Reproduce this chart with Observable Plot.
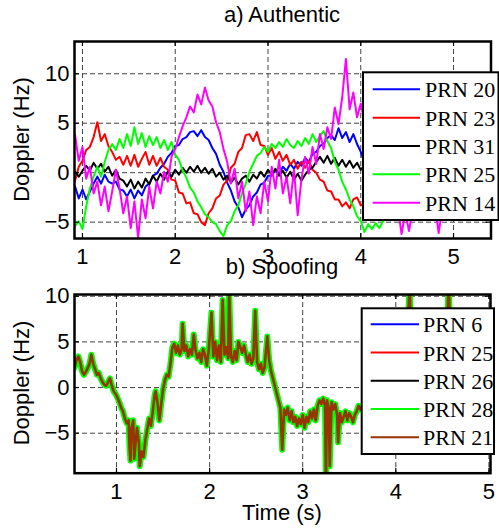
<!DOCTYPE html>
<html><head><meta charset="utf-8">
<script src="https://cdn.jsdelivr.net/npm/d3@7"></script>
<script src="https://cdn.jsdelivr.net/npm/@observablehq/plot@0.6"></script>
<style>
body{margin:0;background:#fff;}
#wrap{position:relative;width:499px;height:531px;overflow:hidden;background:#fff;}
</style></head><body><div id="wrap"></div>
<script>
// ---------- data ----------
const xTicks = [1, 2, 3, 4, 5];
const yTicks = [-5, 0, 5, 10];

// authentic: sampled every 0.04 s from 0.92 s to 5.40 s
const authTime = d3.range(113).map(i => Math.round((0.92 + 0.04 * i) * 100) / 100);

const prn20 = [-1.4,-2.6,-1.7,-2.7,-1.9,-1.1,-0.4,-1.1,-0.2,-0.9,-1.1,-0.9,-1.7,-1.8,-2.4,-1.7,-2.6,-1.8,-2.3,-1.4,-1.1,-0.3,-0.1,0.5,0.9,1.6,2.0,2.7,2.8,3.4,3.6,4.1,4.2,3.7,4.3,3.6,3.3,2.5,1.9,0.8,0.1,-1.0,-1.8,-2.9,-3.5,-4.5,-3.7,-3.3,-2.4,-2.0,-1.2,-1.0,-0.3,-0.3,0.3,-0.1,0.6,0.2,0.9,0.4,1.1,0.7,1.5,1.1,1.9,2.1,2.7,2.9,3.5,3.8,3.3,4.5,3.5,4.1,3.1,3.9,2.9,2.1,1.0,0.3,-0.8,-1.4,-2.3,-2.6,-3.2,-3.0,-3.4,-2.9,-3.1,-2.5,-2.6,-2.0,-2.0,-1.4,-1.4,-0.8,-0.8,-0.2,-0.2,0.4,0.4,1.0,1.0,1.6,1.5,2.1,2.0,2.6,2.4,3.0,2.8,3.3,3.1];
const prn23 = [-0.8,0.6,1.2,2.3,2.6,3.6,5.1,3.2,3.9,2.7,2.1,1.3,1.6,0.8,1.7,0.7,1.8,0.6,1.4,2.1,0.8,1.7,0.7,1.5,0.6,0.3,-0.7,-0.8,-2.0,-2.1,-3.1,-3.0,-4.1,-4.2,-5.0,-5.3,-4.1,-3.6,-2.6,-2.3,-1.2,-0.8,0.5,0.9,2.1,2.5,3.8,3.9,3.2,4.1,2.8,2.7,1.8,2.5,1.4,2.1,1.2,1.8,0.8,1.3,0.4,1.1,0.5,1.2,0.3,0.0,-0.7,-0.9,-1.8,-1.9,-2.7,-2.7,-3.4,-3.0,-3.6,-2.7,-2.5,-3.3,-3.1,-3.5,-2.9,-3.3,-2.7,-3.1,-2.5,-2.9,-2.3,-2.7,-2.1,-2.4,-1.8,-2.2,-1.6,-2.0,-1.4,-1.8,-1.2,-1.6,-1.0,-1.4,-0.8,-1.2,-0.6,-1.0,-0.4,-0.8,-0.2,-0.6,0.0,-0.4,0.2,-0.2,0.3];
const prn31 = [0.1,-0.4,0.2,0.7,0.2,1.0,0.4,0.9,0.1,0.6,-0.3,0.3,-0.6,-0.8,-1.4,-0.7,-1.6,-0.9,-1.5,-0.6,-1.2,-0.3,-0.9,-0.1,-0.7,0.1,-0.4,0.3,-0.2,0.5,0.0,0.6,0.1,0.7,0.0,0.5,-0.1,0.4,-0.4,0.0,-0.7,-0.3,-1.0,-0.5,-1.2,-0.6,-0.3,-0.9,-0.2,-0.6,0.1,-0.4,0.3,-0.2,0.4,-0.3,0.2,-0.5,0.1,-0.7,-0.1,-0.8,-0.2,0.3,0.5,1.1,1.6,1.0,1.7,0.9,1.5,0.7,1.3,0.6,1.2,0.5,1.0,0.3,0.7,0.0,0.4,-0.3,0.1,-0.5,-0.1,-0.7,-0.3,-0.8,-0.4,-0.9,-0.5,-1.0,-0.6,-1.0,-0.6,-0.9,-0.5,-0.8,-0.4,-0.7,-0.3,-0.6,-0.2,-0.5,-0.1,-0.4,0.0,-0.3,0.1,-0.2,0.2,-0.1,0.3];
const prn25 = [-5.4,-4.9,-5.7,-3.4,-1.6,-0.4,0.6,-0.4,1.1,2.3,2.9,2.3,3.4,2.5,3.9,2.7,4.6,2.9,4.0,2.6,3.7,2.8,3.6,2.5,3.3,2.3,3.1,1.8,1.3,0.2,-0.5,-1.5,-2.0,-2.9,-3.5,-4.2,-4.5,-5.0,-5.2,-5.9,-6.4,-5.3,-4.9,-3.9,-3.3,-2.1,-1.1,0.1,0.9,1.7,2.0,2.6,2.1,2.9,2.5,3.1,2.6,3.4,2.8,2.5,3.2,2.7,3.5,2.9,3.9,3.1,3.7,4.2,3.2,2.5,1.1,0.3,-0.9,-1.7,-2.7,-3.4,-4.4,-4.9,-6.0,-5.2,-5.7,-5.1,-5.6,-4.9,-4.6,-4.0,-4.2,-3.5,-3.7,-3.0,-3.2,-2.5,-2.7,-2.0,-2.2,-1.5,-1.6,-0.9,-1.1,-0.4,-0.5,0.2,0.0,0.7,0.5,1.2,1.0,1.7,1.4,2.1,1.9,2.5,2.3];
const prn14 = [3.8,1.2,2.6,-0.6,0.6,-2.1,-0.9,-3.3,-1.4,-3.9,-1.9,0.3,-1.6,-4.1,-2.4,-5.6,-2.9,-6.6,-2.7,-4.6,-1.4,-3.6,-0.9,-2.1,0.1,-0.9,1.6,2.4,3.6,4.7,5.6,6.7,6.1,7.9,6.9,8.6,7.3,6.7,5.1,4.1,2.4,1.1,-1.1,0.4,-2.6,-0.9,-3.9,-1.9,-5.3,-2.4,-4.1,-0.9,-2.9,0.6,-1.6,1.3,-2.1,-0.4,-3.1,0.3,-4.3,-0.7,1.6,-0.1,2.6,0.9,3.9,2.4,4.6,3.4,6.6,4.9,7.6,11.5,6.4,8.1,5.6,7.0,5.2,4.0,2.1,0.5,-1.2,-2.4,-3.6,-3.0,-4.2,-3.5,-6.2,-4.0,-5.9,-3.6,-4.3,-3.4,-4.1,-3.2,-4.0,-3.3,-6.1,-3.5,-4.2,-3.1,-3.8,-2.8,-3.5,-2.5,-3.1,-2.2,-2.8,-1.9,-2.4,-1.5,-2.1];

const authNames  = ["PRN 20", "PRN 23", "PRN 31", "PRN 25", "PRN 14"];
const authColors = ["#0000ff", "#ff0000", "#000000", "#00ff00", "#ff00ff"];
const authValues = [prn20, prn23, prn31, prn25, prn14];

// spoofing: all five PRNs follow the same Doppler track
const spoofTime = [0.55,0.57,0.59,0.61,0.63,0.65,0.67,0.69,0.71,0.73,0.75,0.77,0.79,0.81,0.83,0.85,0.87,0.89,0.91,0.93,0.95,0.97,0.99,1.01,1.03,1.05,1.07,1.09,1.11,1.13,1.14,1.15,1.16,1.18,1.19,1.21,1.22,1.24,1.25,1.27,1.29,1.31,1.33,1.35,1.37,1.39,1.41,1.42,1.44,1.46,1.48,1.50,1.52,1.54,1.56,1.58,1.60,1.62,1.64,1.66,1.68,1.70,1.71,1.73,1.75,1.77,1.79,1.81,1.83,1.85,1.87,1.89,1.91,1.93,1.95,1.97,1.99,2.02,2.04,2.06,2.08,2.10,2.12,2.14,2.16,2.18,2.20,2.21,2.23,2.25,2.27,2.29,2.31,2.33,2.35,2.37,2.39,2.41,2.43,2.45,2.47,2.49,2.51,2.53,2.55,2.57,2.59,2.62,2.64,2.66,2.68,2.70,2.72,2.74,2.76,2.78,2.80,2.82,2.84,2.86,2.88,2.90,2.92,2.94,2.96,2.98,3.00,3.02,3.04,3.06,3.08,3.10,3.12,3.14,3.16,3.18,3.20,3.22,3.24,3.25,3.26,3.28,3.29,3.31,3.33,3.35,3.37,3.38,3.40,3.42,3.44,3.46,3.48,3.50,3.52,3.54,3.56,3.58,3.60,3.62,3.66,3.70,3.75,3.80,3.85,3.90,3.95,4.00,4.05,4.10,4.15,4.17,4.22,4.28,4.34,4.40,4.46,4.52,4.57,4.59,4.65,4.72,4.80,4.88,4.96];
const spoofDoppler = [2.2,3.0,3.4,2.8,1.8,1.4,1.7,2.1,2.6,3.6,2.6,2.0,1.4,1.6,1.0,0.6,0.3,0.2,0.6,1.0,0.2,-0.4,-0.7,-1.1,-1.6,-2.2,-2.6,-3.4,-3.9,-3.6,-6.5,-8.0,-4.5,-3.6,-7.8,-5.5,-4.4,-6.0,-8.6,-7.0,-7.6,-5.8,-4.6,-3.4,-4.2,-2.6,-0.8,-0.4,-1.6,-3.6,-1.8,-0.2,0.8,1.4,1.2,2.6,4.4,4.8,3.8,4.6,3.6,4.2,7.0,4.0,4.6,3.4,4.2,3.6,5.8,4.0,3.2,3.8,2.8,4.2,3.6,2.4,4.0,8.2,3.4,5.0,3.0,4.6,2.8,9.6,3.6,4.4,3.2,10.8,3.4,2.8,4.0,3.0,5.0,4.4,3.8,4.6,3.6,2.8,3.6,2.6,3.2,8.4,2.8,2.0,2.6,1.6,2.2,5.6,3.0,1.8,1.0,0.2,-0.6,-1.4,-2.2,-6.8,-2.4,-3.0,-2.2,-3.6,-2.6,-3.8,-3.2,-4.2,-3.4,-4.0,-3.0,-4.4,-3.2,-3.8,-2.6,-3.4,-2.4,-3.6,-2.0,-1.4,-1.8,-1.2,-2.0,-10.5,-1.4,-2.2,-8.6,-1.6,-2.4,-1.8,-3.0,-6.0,-2.8,-3.8,-3.2,-2.6,-3.6,-2.8,-3.2,-3.8,-3.0,-2.6,-2.0,-2.4,-1.8,-2.2,-1.0,-1.6,-0.8,-1.4,-0.6,-1.2,-0.4,-1.0,12,-0.8,-0.2,-1.0,-0.4,-1.2,-0.6,-1.4,12,-0.8,-1.6,-1.0,-1.8,-1.2,-2.0];

const spoofNames  = ["PRN 6", "PRN 25", "PRN 26", "PRN 28", "PRN 21"];
const spoofColors = ["#0000ff", "#ff0000", "#000000", "#00ff00", "#993300"];
const spoofWidths = [3.5, 3.5, 3.5, 6, 2.6];

// ---------- drawing ----------
const W = 499;
const wrap = document.getElementById("wrap");
const FONT = "'Liberation Sans', Arial, Helvetica, sans-serif";

function panel({top, height, mt, mb, ml, mr, xDomain, yDomain, lines}) {
  const fw = W - ml - mr, fh = height - mt - mb;
  const grid = {stroke: "#444", strokeOpacity: 1, strokeWidth: 1, strokeDasharray: "5,3"};
  const svg = Plot.plot({
    width: W, height,
    marginTop: mt, marginBottom: mb, marginLeft: ml, marginRight: mr,
    style: {fontFamily: FONT, fontSize: "22px", background: "transparent", overflow: "visible", color: "black"},
    x: {domain: xDomain},
    y: {domain: yDomain},
    marks: [
      Plot.gridX(xTicks, grid),
      Plot.gridY(yTicks, grid),
      ...lines,
      Plot.tickX(xTicks, {x: d => d, insetTop: fh - 5, stroke: "black", strokeWidth: 1.2}),
      Plot.tickX(xTicks, {x: d => d, insetBottom: fh - 5, stroke: "black", strokeWidth: 1.2}),
      Plot.tickY(yTicks, {y: d => d, insetRight: fw - 5, stroke: "black", strokeWidth: 1.2}),
      Plot.tickY(yTicks, {y: d => d, insetLeft: fw - 5, stroke: "black", strokeWidth: 1.2}),
      Plot.frame({stroke: "black", strokeWidth: 2.5}),
      Plot.axisX(xTicks, {tickSize: 0, tickPadding: 10, label: null, fontSize: 22}),
      Plot.axisY(yTicks, {tickSize: 0, tickPadding: 5, label: null, fontSize: 22})
    ]
  });
  svg.style.position = "absolute";
  svg.style.left = "0px";
  svg.style.top = top + "px";
  wrap.appendChild(svg);
}

// top panel: authentic
const authRows = authValues.map((vals, k) => authTime.map((t, i) => ({t, v: vals[i], prn: authNames[k]})));
panel({
  top: 0, height: 265, mt: 41, mb: 27, ml: 74, mr: 8.5,
  xDomain: [0.914, 5.404], yDomain: [-6.65, 13.26],
  lines: authRows.map((rows, k) => Plot.line(rows, {x: "t", y: "v", stroke: authColors[k], strokeWidth: 2, clip: true}))
});

// bottom panel: spoofing
const spoofRows = spoofTime.map((t, i) => ({t, v: spoofDoppler[i]}));
panel({
  top: 265, height: 266, mt: 29, mb: 58.3, ml: 74, mr: 9,
  xDomain: [0.549, 5.017], yDomain: [-9.38, 10.19],
  lines: spoofNames.map((n, k) => Plot.line(spoofRows, {x: "t", y: "v", stroke: spoofColors[k], strokeWidth: spoofWidths[k], clip: true}))
});

// overlay: titles, axis labels, legends
const ov = d3.select(wrap).append("svg")
  .attr("width", W).attr("height", 531)
  .style("position", "absolute").style("left", 0).style("top", 0)
  .style("overflow", "visible");

const sans = ov.append("g").attr("font-family", FONT).attr("font-size", 22).attr("fill", "black");
sans.append("text").attr("x", 282).attr("y", 21.5).attr("text-anchor", "middle").text("a) Authentic");
sans.append("text").attr("x", 282).attr("y", 274).attr("text-anchor", "middle").text("b) Spoofing");
sans.append("text").attr("x", 282).attr("y", 520).attr("text-anchor", "middle").text("Time (s)");
[139.5, 383].forEach(cy => {
  sans.append("text").attr("transform", `translate(29,${cy}) rotate(-90)`)
    .attr("text-anchor", "middle").text("Doppler (Hz)");
});

function legend({x0, y0, x1, y1, lx0, lx1, tx, cy0, step, names, colors}) {
  const g = ov.append("g");
  g.append("rect").attr("x", x0).attr("y", y0).attr("width", x1 - x0).attr("height", y1 - y0)
    .attr("fill", "white").attr("stroke", "black").attr("stroke-width", 2);
  names.forEach((n, k) => {
    const cy = cy0 + k * step;
    g.append("line").attr("x1", lx0).attr("x2", lx1).attr("y1", cy).attr("y2", cy)
      .attr("stroke", colors[k]).attr("stroke-width", 2);
    g.append("text").attr("x", tx).attr("y", cy + 8)
      .attr("font-family", "'Liberation Serif', 'Times New Roman', serif").attr("font-size", 22)
      .attr("fill", "black").text(n);
  });
}
legend({x0: 363, y0: 72.3, x1: 498.5, y1: 220, lx0: 372.7, lx1: 420, tx: 425, cy0: 89.3, step: 28.35, names: authNames, colors: authColors});
legend({x0: 361.7, y0: 308.3, x1: 494, y1: 454, lx0: 370.7, lx1: 419, tx: 423, cy0: 324.3, step: 28.25, names: spoofNames, colors: spoofColors});
</script>
</body></html>
